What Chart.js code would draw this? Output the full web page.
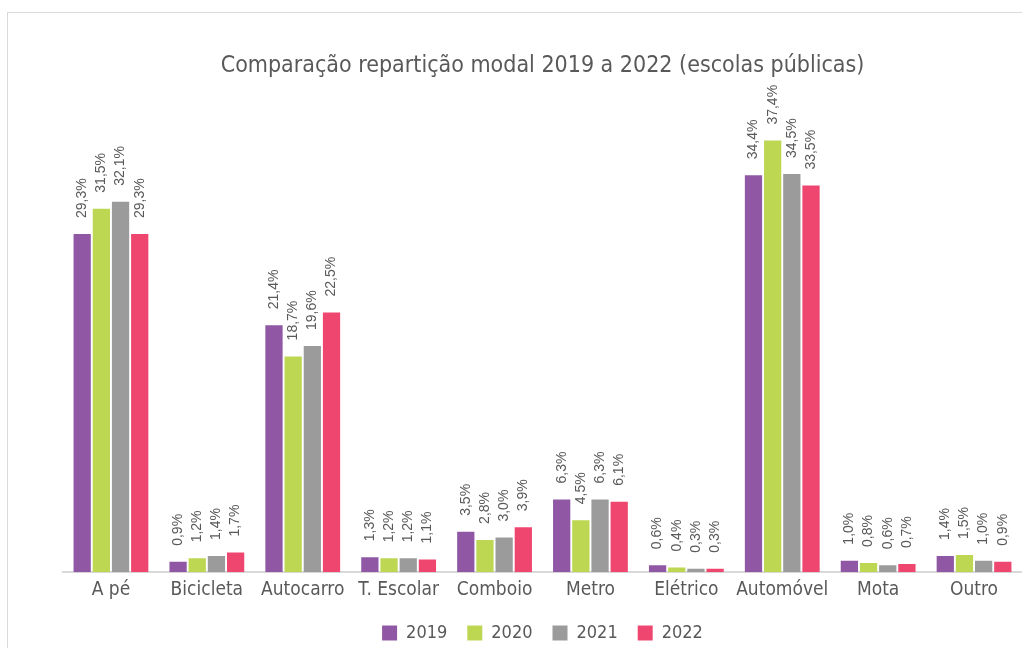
<!DOCTYPE html>
<html lang="pt">
<head>
  <meta charset="UTF-8">
  <title>Comparação repartição modal 2019 a 2022</title>
  <script src="https://cdn.jsdelivr.net/npm/chart.js@4"></script>
  <style>
    body { margin: 0; background: #fff; overflow: hidden; }
    #frame { position: absolute; left: 7px; top: 12px; width: 1100px; height: 700px; border: 1px solid #d9d9d9; }
    #wrap { position: absolute; left: 0; top: 0; width: 1022px; height: 648px; }
  </style>
</head>
<body>
  <div id="frame"></div>
  <div id="wrap"><canvas id="myChart" width="1022" height="648"></canvas></div>
  <script>
    const categories = ['A pé', 'Bicicleta', 'Autocarro', 'T. Escolar', 'Comboio', 'Metro', 'Elétrico', 'Automóvel', 'Mota', 'Outro'];
    const years = ['2019', '2020', '2021', '2022'];
    const values2019 = [29.3, 0.9, 21.4, 1.3, 3.5, 6.3, 0.6, 34.4, 1.0, 1.4];
    const values2020 = [31.5, 1.2, 18.7, 1.2, 2.8, 4.5, 0.4, 37.4, 0.8, 1.5];
    const values2021 = [32.1, 1.4, 19.6, 1.2, 3.0, 6.3, 0.3, 34.5, 0.6, 1.0];
    const values2022 = [29.3, 1.7, 22.5, 1.1, 3.9, 6.1, 0.3, 33.5, 0.7, 0.9];
    const colors = ['#9058a4', '#bdd753', '#9b9b9b', '#ef4670'];

    const narrow = "'DejaVu Sans Condensed', 'Liberation Sans Narrow', sans-serif";

    // rotated value labels above each bar
    const barLabels = {
      id: 'barLabels',
      afterDatasetsDraw(chart) {
        const ctx = chart.ctx;
        ctx.save();
        ctx.font = "14px 'Liberation Sans', Arial, sans-serif";
        ctx.fillStyle = '#595959';
        ctx.textAlign = 'left';
        ctx.textBaseline = 'middle';
        chart.data.datasets.forEach((ds, i) => {
          chart.getDatasetMeta(i).data.forEach((bar, j) => {
            const txt = ds.data[j].toFixed(1).replace('.', ',') + '%';
            ctx.save();
            ctx.translate(bar.x, bar.y - 16);
            ctx.rotate(-Math.PI / 2);
            ctx.fillText(txt, 0, 0);
            ctx.restore();
          });
        });
        ctx.restore();
      }
    };

    const ctx = document.getElementById('myChart').getContext('2d');
    new Chart(ctx, {
      type: 'bar',
      data: {
        labels: categories,
        datasets: [values2019, values2020, values2021, values2022].map((d, i) => ({
          label: years[i],
          data: d,
          backgroundColor: colors[i],
          barPercentage: 0.9,
          categoryPercentage: 0.8
        }))
      },
      options: {
        responsive: false,
        animation: false,
        layout: { padding: { left: 63, right: 0, top: 0, bottom: -4 } },
        plugins: {
          title: {
            display: true,
            text: 'Comparação repartição modal 2019 a 2022 (escolas públicas)',
            color: '#595959',
            font: { family: narrow, size: 23, weight: 'normal' },
            padding: { top: 52, bottom: 31 }
          },
          legend: {
            position: 'bottom',
            labels: {
              color: '#595959',
              font: { family: narrow, size: 18 },
              boxWidth: 15,
              boxHeight: 15,
              padding: 20
            }
          },
          tooltip: { enabled: false }
        },
        scales: {
          x: {
            grid: { display: false },
            border: { display: true, color: '#d9d9d9', width: 2 },
            ticks: {
              color: '#595959',
              font: { family: narrow, size: 19 },
              padding: -2,
              maxRotation: 0,
              minRotation: 0,
              autoSkip: false
            },
            afterFit(scale) { scale.height += 5; }
          },
          y: {
            display: false,
            min: 0,
            max: 40
          }
        }
      },
      plugins: [barLabels]
    });
  </script>
</body>
</html>
